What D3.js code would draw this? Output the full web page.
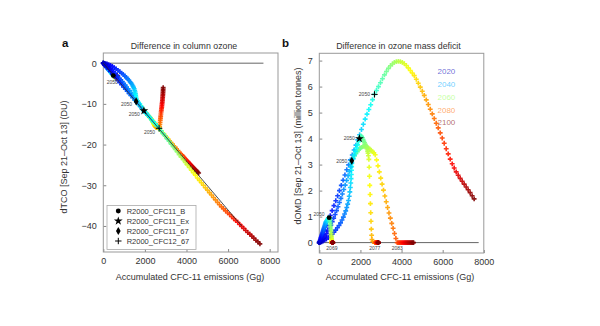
<!DOCTYPE html>
<html>
<head>
<meta charset="utf-8">
<script src="https://cdn.jsdelivr.net/npm/d3@7"></script>
<style>
  body { margin: 0; background: #fff; }
  svg { font-family: "Liberation Sans", Arial, Helvetica, sans-serif; }
</style>
</head>
<body>
<script>
// one point per year, 2020..2100
var years = d3.range(2020, 2101);

// R2000_CFC11_B (circle)
var bX = [0,16,32,48,64,80,96,112,128,144,160, 176,192,208,224,240,256,272,288,304,320,
  336,352,368,384,400,416,432,448,464,480, 489,498,507,516,525,534,543,552,561,570,
  578,585,591,596,600,604,607,610,613,615, 617,619,621,623,625,627,629,631,632,633,
  634,635,636,637,638,639,640,641,642,643, 644,645,646,647,648,649,650,651,652,653];
var bA = [0,-0.1,-0.2,-0.3,-0.4,-0.5,-0.6,-0.7,-0.8,-0.9,-1.0, -1.1,-1.2,-1.3,-1.4,-1.5,-1.6,-1.7,-1.8,-1.9,-2.0,
  -2.1,-2.2,-2.3,-2.4,-2.5,-2.6,-2.7,-2.8,-2.9,-3.05, -3.1,-3.15,-3.2,-3.25,-3.3,-3.35,-3.4,-3.45,-3.5,-3.55,
  -3.6,-3.62,-3.64,-3.66,-3.68,-3.7,-3.7,-3.7,-3.7,-3.68, -3.66,-3.64,-3.62,-3.6,-3.58,-3.56,-3.54,-3.52,-3.5,-3.48,
  -3.46,-3.44,-3.42,-3.4,-3.38,-3.36,-3.34,-3.32,-3.3,-3.28, -3.26,-3.24,-3.22,-3.2,-3.18,-3.16,-3.14,-3.12,-3.1,-3.08];
var bB = [0,0.03,0.06,0.1,0.14,0.18,0.22,0.26,0.3,0.34,0.38, 0.42,0.46,0.5,0.54,0.58,0.62,0.66,0.7,0.74,0.78,
  0.8,0.82,0.84,0.86,0.88,0.9,0.92,0.94,0.95,0.96, 0.95,0.92,0.88,0.83,0.77,0.7,0.63,0.56,0.49,0.42,
  0.35,0.28,0.22,0.16,0.11,0.07,0.04,0.02,0,0, 0,0,0,0,0,0,0,0,0,0,
  0,0,0,0,0,0,0,0,0,0, 0,0,0,0,0,0,0,0,0,0];

// R2000_CFC11_Ex (star)
var exX = [0,70,140,210,280,350,420,490,560,630,700, 770,840,910,980,1050,1120,1190,1260,1330,1400,
  1460,1520,1580,1640,1700,1755,1810,1860,1905,1951, 1990,2025,2060,2095,2130,2165,2200,2235,2270,2300,
  2325,2350,2370,2390,2410,2425,2440,2455,2470,2485, 2500,2515,2530,2545,2560,2600,2700,2710,2720,2730,
  2740,2750,2760,2770,2780,2790,2800,2810,2818,2826, 2834,2842,2848,2854,2860,2865,2870,2874,2877,2880];
var exA = [0,-0.2,-0.45,-0.75,-1.05,-1.4,-1.75,-2.1,-2.5,-2.9,-3.3, -3.7,-4.1,-4.5,-4.95,-5.4,-5.85,-6.3,-6.75,-7.2,-7.65,
  -8.05,-8.45,-8.85,-9.25,-9.65,-10.05,-10.45,-10.85,-11.25,-11.7, -11.9,-12.1,-12.3,-12.5,-12.7,-12.9,-13.1,-13.3,-13.5,-13.7,
  -13.9,-14.1,-14.3,-14.5,-14.7,-14.85,-15.0,-15.15,-15.3,-15.4, -15.5,-15.6,-15.7,-15.75,-15.8,-15.85,-15.9,-15.5,-15.0,-14.5,
  -14.0,-13.5,-13.0,-12.5,-12.0,-11.6,-11.2,-10.8,-10.4,-10.0, -9.6,-9.2,-8.8,-8.4,-8.0,-7.6,-7.2,-6.8,-6.4,-6.0];
var exB = [0,0.04,0.1,0.17,0.25,0.34,0.44,0.55,0.67,0.8,0.94, 1.08,1.23,1.38,1.54,1.7,1.87,2.04,2.21,2.39,2.57,
  2.74,2.91,3.07,3.22,3.37,3.51,3.64,3.76,3.88,4.0, 4.07,4.1,4.08,4.03,3.96,3.9,3.84,3.78,3.72,3.66,
  3.6,3.52,3.44,3.34,3.2,2.9,2.55,2.2,1.85,1.5, 1.15,0.82,0.52,0.28,0.12,0.04,0,0,0,0,
  0,0,0,0,0,0,0,0,0,0, 0,0,0,0,0,0,0,0,0,0];

// R2000_CFC11_67 (diamond)
var s67X = [0,50,110,180,260,345,435,525,615,705,795, 880,960,1035,1105,1170,1230,1285,1335,1380,1420,
  1455,1485,1510,1530,1546,1558,1567,1573,1577,1580, 1647,1714,1781,1848,1915,1982,2049,2116,2183,2250,
  2317,2384,2451,2518,2585,2652,2719,2786,2853,2920, 2987,3054,3121,3188,3255,3322,3389,3456,3523,3590,
  3657,3724,3790,3840,3890,3940,3990,4040,4090,4140, 4185,4230,4275,4320,4365,4410,4455,4500,4545,4585];
var s67A = [0,-0.03,-0.1,-0.2,-0.35,-0.55,-0.8,-1.1,-1.4,-1.75,-2.1, -2.45,-2.8,-3.15,-3.5,-3.85,-4.2,-4.55,-4.9,-5.25,-5.6,
  -5.95,-6.3,-6.7,-7.1,-7.5,-7.9,-8.3,-8.7,-9.05,-9.4, -9.8,-10.2,-10.6,-11.0,-11.4,-11.8,-12.2,-12.6,-13.0,-13.4,
  -13.8,-14.2,-14.6,-15.0,-15.4,-15.8,-16.3,-16.7,-17.1,-17.5, -17.9,-18.3,-18.7,-19.1,-19.5,-19.9,-20.3,-20.7,-21.1,-21.5,
  -21.9,-22.3,-22.6,-22.9,-23.2,-23.5,-23.8,-24.1,-24.3,-24.6, -24.85,-25.1,-25.35,-25.6,-25.85,-26.1,-26.35,-26.6,-26.8,-27.0];
var s67B = [0,0.01,0.03,0.06,0.1,0.14,0.19,0.25,0.32,0.4,0.48, 0.57,0.66,0.76,0.87,0.98,1.1,1.22,1.35,1.48,1.62,
  1.78,1.95,2.12,2.29,2.46,2.62,2.78,2.92,3.04,3.15, 3.24,3.33,3.42,3.5,3.57,3.62,3.66,3.69,3.7,3.7,
  3.68,3.64,3.6,3.55,3.5,3.45,3.38,3.18,2.95,2.72, 2.48,2.25,2.02,1.79,1.57,1.35,1.14,0.94,0.74,0.55,
  0.35,0.16,0,0,0,0,0,0,0,0, 0,0,0,0,0,0,0,0,0,0];

// R2000_CFC12_67 (plus)
var c12X = [0,89,178,267,356,445,534,623,712,801,890, 979,1068,1157,1246,1335,1424,1513,1602,1691,1780,
  1870,1960,2050,2140,2230,2320,2410,2500,2590,2683, 2780,2877,2974,3071,3168,3265,3362,3459,3556,3650,
  3747,3844,3941,4038,4135,4232,4329,4426,4523,4620, 4717,4814,4911,5008,5105,5202,5299,5396,5493,5590,
  5687,5784,5881,5978,6075,6172,6269,6366,6463,6560, 6657,6754,6851,6948,7045,7142,7239,7336,7433,7530];
var c12A = [0,-0.4,-0.9,-1.5,-2.1,-2.7,-3.2,-3.7,-4.3,-4.8,-5.3, -5.9,-6.4,-6.9,-7.5,-8.0,-8.5,-9.1,-9.6,-10.1,-10.7,
  -11.2,-11.8,-12.3,-12.8,-13.3,-13.9,-14.4,-14.9,-15.4,-16.0, -16.6,-17.3,-17.9,-18.6,-19.2,-19.9,-20.5,-21.2,-21.8,-22.5,
  -23.1,-23.7,-24.4,-25.0,-25.6,-26.3,-26.9,-27.5,-28.2,-28.8, -29.4,-30.0,-30.6,-31.2,-31.8,-32.4,-33.0,-33.6,-34.2,-34.8,
  -35.3,-35.8,-36.3,-36.8,-37.2,-37.7,-38.2,-38.7,-39.1,-39.6, -40.1,-40.6,-41.1,-41.6,-42.0,-42.5,-43.0,-43.5,-43.9,-44.4];
var c12B = [0,0.12,0.3,0.48,0.66,0.85,1.04,1.23,1.42,1.61,1.8, 2.0,2.2,2.4,2.6,2.8,2.99,3.18,3.37,3.56,3.75,
  3.95,4.15,4.35,4.55,4.75,4.94,5.12,5.3,5.5,5.7, 5.85,6.0,6.15,6.3,6.45,6.58,6.7,6.8,6.87,6.93,
  6.96,6.97,6.96,6.93,6.88,6.81,6.72,6.62,6.52,6.42, 6.28,6.13,5.98,5.82,5.66,5.49,5.31,5.13,4.95,4.77,
  4.59,4.41,4.22,4.02,3.82,3.61,3.41,3.21,3.03,2.87, 2.72,2.59,2.47,2.36,2.25,2.14,2.03,1.92,1.8,1.68];

// black reference line in panel a
var fitX = [0, 6650];
var fitY = [0, -40];

// year where dOMD first hits zero (labels in panel b)
var zeroYears = [2069, 2077, 2083];
var legendYears = [2020, 2040, 2060, 2080, 2100];
var xTicks = [0, 2000, 4000, 6000, 8000];
var aTicks = [0, -10, -20, -30, -40];
var bTicks = [0, 1, 2, 3, 4, 5, 6, 7];

var width = 600, height = 326;

const svg = d3.select("body")
    .append("svg")
    .attr("width", width)
    .attr("height", height);

function jet(t) {
    t = Math.max(0, Math.min(1, t));
    var c = v => Math.max(0, Math.min(1, v)) * 255;
    return d3.rgb(c(1.5 - Math.abs(4 * t - 3)), c(1.5 - Math.abs(4 * t - 2)), c(1.5 - Math.abs(4 * t - 1)));
}
var color = yr => jet((yr - 2015) / 85);

var scenarios = [
    {name: "R2000_CFC11_B",  x: bX,   a: bA,   b: bB,   mark: "circle"},
    {name: "R2000_CFC11_Ex", x: exX,  a: exA,  b: exB,  mark: "star"},
    {name: "R2000_CFC11_67", x: s67X, a: s67A, b: s67B, mark: "diamond"},
    {name: "R2000_CFC12_67", x: c12X, a: c12A, b: c12B, mark: "plus"}
];

var xa = d3.scaleLinear().domain([0, 8400]).range([103.3, 278]);
var ya = d3.scaleLinear().domain([-46.4, 2.5]).range([252, 53]);
var xb = d3.scaleLinear().domain([0, 8000]).range([319.3, 483.8]);
var yb = d3.scaleLinear().domain([-0.4, 7.28]).range([253, 53.3]);

var dot = d3.symbol().type(d3.symbolCross).size(13)();

function marker(g, type, x, y) {
    if (type == "plus") {
        g.append("path")
            .attr("d", "M-3.2,0H3.2M0,-3.2V3.2")
            .attr("transform", `translate(${x},${y})`)
            .attr("stroke", "#000").attr("stroke-width", 1);
        return;
    }
    var sym = {circle: d3.symbolCircle, star: d3.symbolStar, diamond: d3.symbolDiamond}[type];
    var size = {circle: 19, star: 24, diamond: 19}[type];
    g.append("path")
        .attr("d", d3.symbol().type(sym).size(size)())
        .attr("transform", `translate(${x},${y})`)
        .attr("fill", "#000");
}

function frame(g, x, y, xt, yt) {
    var x0 = x.range()[0], x1 = x.range()[1], y0 = y.range()[1], y1 = y.range()[0];
    g.append("g")
        .attr("transform", `translate(0,${y1})`)
        .call(d3.axisBottom(x).tickValues(xt).tickFormat(d3.format("d")).tickSizeInner(-3).tickSizeOuter(0).tickPadding(6))
        .call(a => a.select(".domain").remove())
        .call(a => a.selectAll("line").attr("stroke", "#888"))
        .call(a => a.selectAll("text").attr("font-size", 9).attr("fill", "#333").attr("font-family", null));
    g.append("g")
        .attr("transform", `translate(${x0},0)`)
        .call(d3.axisLeft(y).tickValues(yt).tickFormat(d3.format("d")).tickSizeInner(-3).tickSizeOuter(0).tickPadding(6.5))
        .call(a => a.select(".domain").remove())
        .call(a => a.selectAll("line").attr("stroke", "#888"))
        .call(a => a.selectAll("text").attr("font-size", 9).attr("fill", "#333").attr("font-family", null));
    g.append("rect")
        .attr("x", x0).attr("y", y0)
        .attr("width", x1 - x0).attr("height", y1 - y0)
        .attr("fill", "none").attr("stroke", "#999").attr("stroke-width", 1);
}

// ---------- panel a ----------
var ga = svg.append("g");
frame(ga, xa, ya, xTicks, aTicks);

ga.append("line")
    .attr("x1", xa(0)).attr("x2", xa(7700))
    .attr("y1", ya(0)).attr("y2", ya(0))
    .attr("stroke", "#666").attr("stroke-width", 1);

scenarios.forEach(s => {
    ga.append("g").selectAll("path")
        .data(years.map((yr, i) => ({yr: yr, x: s.x[i], y: s.a[i]})))
        .join("path")
        .attr("d", dot)
        .attr("transform", d => `translate(${xa(d.x)},${ya(d.y)})`)
        .attr("fill", d => color(d.yr))
        .attr("fill-opacity", 0.9);
});

ga.append("path")
    .datum(fitX.map((v, i) => [v, fitY[i]]))
    .attr("d", d3.line().x(d => xa(d[0])).y(d => ya(d[1])))
    .attr("stroke", "#222").attr("stroke-width", 0.8).attr("fill", "none");

var i2050 = years.indexOf(2050);
var aLab = {circle: [-1, 7, "middle"], star: [-4, 4, "end"], diamond: [-4, 3, "end"], plus: [-4, 4.5, "end"]};
scenarios.forEach(s => {
    var px = xa(s.x[i2050]), py = ya(s.a[i2050]);
    marker(ga, s.mark, px, py);
    var o = aLab[s.mark];
    ga.append("text")
        .attr("x", px + o[0]).attr("y", py + o[1])
        .attr("text-anchor", o[2]).attr("dominant-baseline", "middle")
        .attr("font-size", 5).attr("fill", "#444")
        .text("2050");
});

// legend
var lg = ga.append("g");
lg.append("rect")
    .attr("x", 107).attr("y", 205.5).attr("width", 89).attr("height", 44)
    .attr("fill", "#fff").attr("stroke", "#aaa").attr("stroke-width", 0.8);
scenarios.forEach((s, i) => {
    var ly = 211 + i * 10;
    marker(lg, s.mark, 118.3, ly);
    lg.append("text")
        .attr("x", 126.7).attr("y", ly)
        .attr("dominant-baseline", "central")
        .attr("font-size", 7.5).attr("fill", "#333")
        .text(s.name);
});

ga.append("text")
    .attr("x", 184).attr("y", 49)
    .attr("text-anchor", "middle").attr("font-size", 8.8).attr("fill", "#333")
    .text("Difference in column ozone");
ga.append("text")
    .attr("x", 190).attr("y", 280)
    .attr("text-anchor", "middle").attr("font-size", 9).attr("fill", "#333")
    .text("Accumulated CFC-11 emissions (Gg)");
ga.append("text")
    .attr("transform", "translate(67,157) rotate(-90)")
    .attr("text-anchor", "middle").attr("font-size", 9).attr("fill", "#333")
    .text("dTCO [Sep 21–Oct 13] (DU)");
svg.append("text")
    .attr("x", 62).attr("y", 47)
    .attr("font-size", 11.5).attr("font-weight", "bold").attr("fill", "#111")
    .text("a");

// ---------- panel b ----------
var gb = svg.append("g");
frame(gb, xb, yb, xTicks, bTicks);

gb.append("line")
    .attr("x1", xb(0)).attr("x2", xb(7750))
    .attr("y1", yb(0)).attr("y2", yb(0))
    .attr("stroke", "#666").attr("stroke-width", 1);

scenarios.slice().reverse().forEach(s => {
    gb.append("g").selectAll("path")
        .data(years.map((yr, i) => ({yr: yr, x: s.x[i], y: s.b[i]})))
        .join("path")
        .attr("d", dot)
        .attr("transform", d => `translate(${xb(d.x)},${yb(d.y)})`)
        .attr("fill", d => color(d.yr))
        .attr("fill-opacity", 0.9);
});

scenarios.forEach(s => {
    var px = xb(s.x[i2050]), py = yb(s.b[i2050]);
    marker(gb, s.mark, px, py);
    gb.append("text")
        .attr("x", px - 4.5).attr("y", py + (s.mark == "circle" ? -3 : 0.5))
        .attr("text-anchor", "end").attr("dominant-baseline", "middle")
        .attr("font-size", 5).attr("fill", "#444")
        .text("2050");
});

// years when the deficit disappears
[bX, exX, s67X].forEach((xs, k) => {
    var i = years.indexOf(zeroYears[k]);
    gb.append("text")
        .attr("x", xb(xs[i])).attr("y", yb(0) + 6)
        .attr("text-anchor", "middle").attr("dominant-baseline", "middle")
        .attr("font-size", 5).attr("fill", "#444")
        .text(zeroYears[k]);
});

legendYears.forEach((yr, i) => {
    gb.append("text")
        .attr("x", 437.5).attr("y", 71.7 + i * 12.8)
        .attr("dominant-baseline", "central")
        .attr("font-size", 8).attr("fill", color(yr)).attr("fill-opacity", 0.6)
        .text(yr);
});

gb.append("text")
    .attr("x", 398.5).attr("y", 49)
    .attr("text-anchor", "middle").attr("font-size", 8.8).attr("fill", "#333")
    .text("Difference in ozone mass deficit");
gb.append("text")
    .attr("x", 400).attr("y", 280)
    .attr("text-anchor", "middle").attr("font-size", 9).attr("fill", "#333")
    .text("Accumulated CFC-11 emissions (Gg)");
gb.append("text")
    .attr("transform", "translate(300.5,146) rotate(-90)")
    .attr("text-anchor", "middle").attr("font-size", 9).attr("fill", "#333")
    .text("dOMD [Sep 21–Oct 13] (million tonnes)");
svg.append("text")
    .attr("x", 282).attr("y", 47)
    .attr("font-size", 11.5).attr("font-weight", "bold").attr("fill", "#111")
    .text("b");
</script>
</body>
</html>
